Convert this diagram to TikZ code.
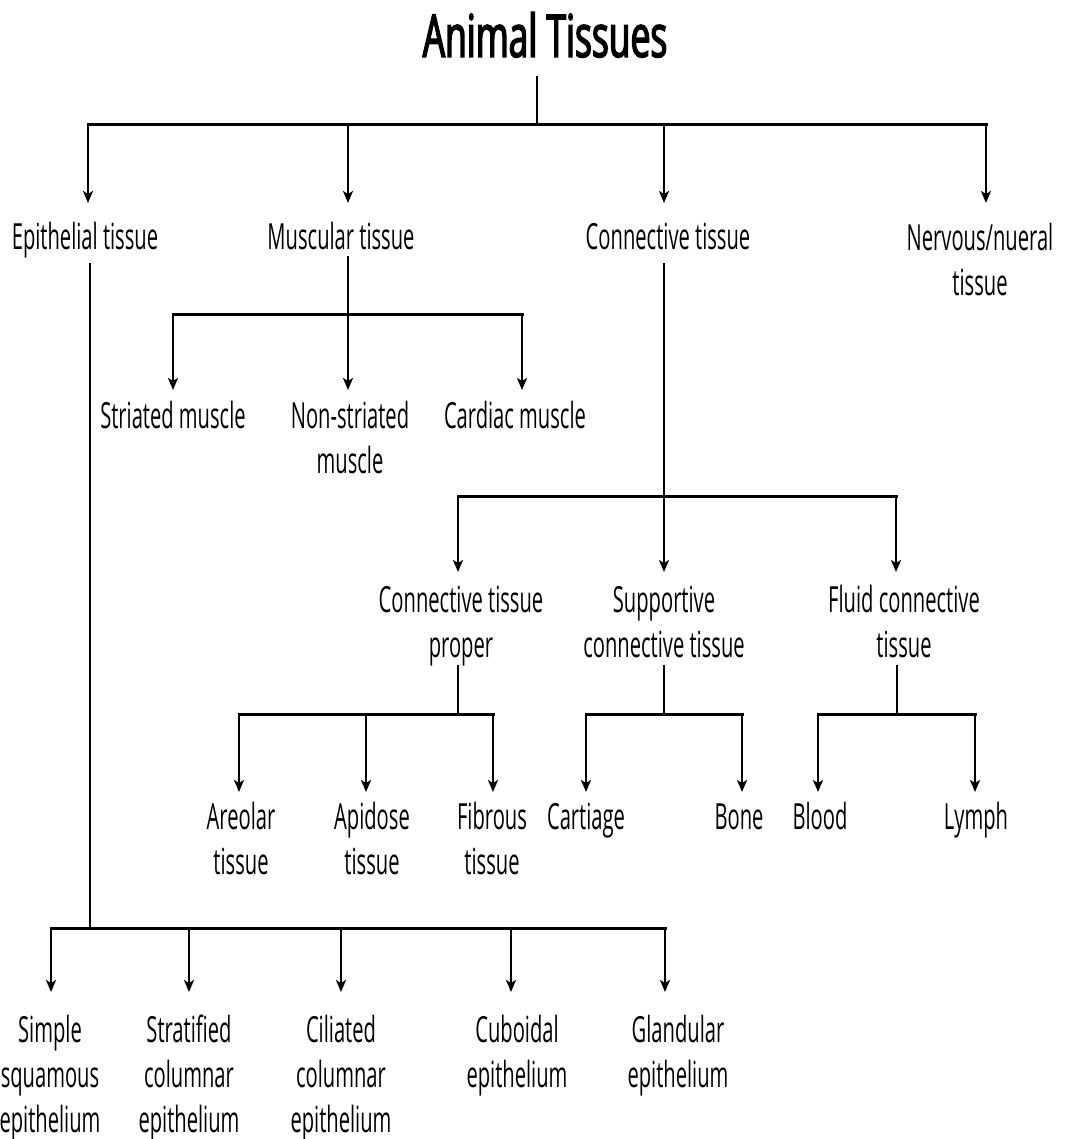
\documentclass[tikz,border=0pt]{standalone}
\usepackage{fontspec}
\setmainfont[FakeStretch=0.56]{Open Sans}
\newfontfamily\titlefont[FakeStretch=0.6,FakeBold=2.4]{Open Sans}
\usetikzlibrary{arrows.meta}
\begin{document}
\begin{tikzpicture}[x=1pt,y=-1pt,
  lbl/.style={anchor=north, inner sep=0pt, outer sep=0pt, align=center,
    font=\fontsize{36}{45}\selectfont, execute at begin node=\strut},
  link/.style={line width=2pt},
  bar/.style={line width=3pt, line cap=rect},
  arr/.style={line width=2pt, -{Stealth[length=12pt,width=10pt,inset=3pt]}},
  g1/.style={shorten >=15.5pt},
  g2/.style={shorten >=6.5pt},
  g3/.style={shorten >=8.5pt},
  g4/.style={shorten >=5.5pt},
  g5/.style={shorten >=18.5pt}]
\useasboundingbox (0,0) rectangle (1069,1139);

% title
\node[anchor=base, inner sep=0pt, font=\titlefont\fontsize{59}{66}\selectfont] (root) at (545,57) {Animal Tissues};

% first level
\node[lbl] (epi) at (85,218.5) {Epithelial tissue};
\node[lbl] (mus) at (341,218.5) {Muscular tissue};
\node[lbl] (con) at (668,218.5) {Connective tissue};
\node[lbl] (ner) at (980,218.5) {\strut Nervous/nueral\\tissue};

% muscular tissue
\node[lbl] (str) at (173,396.5) {Striated muscle};
\node[lbl] (nst) at (350,396.5) {\strut Non-striated\\muscle};
\node[lbl] (car) at (515,396.5) {Cardiac muscle};

% connective tissue
\node[lbl] (ctp) at (461,580.5) {\strut Connective tissue\\proper};
\node[lbl] (sup) at (664,580.5) {\strut Supportive\\connective tissue};
\node[lbl] (flu) at (904,580.5) {\strut Fluid connective\\tissue};

% third level
\node[lbl] (are) at (241,797.5) {\strut Areolar\\tissue};
\node[lbl] (api) at (372,797.5) {\strut Apidose\\tissue};
\node[lbl] (fib) at (492,797.5) {\strut Fibrous\\tissue};
\node[lbl] (cart) at (586,797.5) {Cartiage};
\node[lbl] (bone) at (739,797.5) {Bone};
\node[lbl] (blo) at (820,797.5) {Blood};
\node[lbl] (lym) at (976,797.5) {Lymph};

% epithelium types
\node[lbl] (sse) at (50,1010.5) {\strut Simple\\squamous\\epithelium};
\node[lbl] (sce) at (189,1010.5) {\strut Stratified\\columnar\\epithelium};
\node[lbl] (cce) at (341,1010.5) {\strut Ciliated\\columnar\\epithelium};
\node[lbl] (cub) at (517,1010.5) {\strut Cuboidal\\epithelium};
\node[lbl] (gla) at (678,1010.5) {\strut Glandular\\epithelium};

% bar levels
\coordinate (b0) at (538,125);
\coordinate (b1) at (348,314);
\coordinate (b2) at (664,496);
\coordinate (b3) at (458,714);
\coordinate (b4) at (51,928);

% root -> first level
\draw[link] ([xshift=-8pt,yshift=-18pt]root.south) -- ([xshift=-8pt]root.south |- b0);
\draw[bar] ([xshift=3pt]epi.north |- b0) -- ([xshift=6pt]ner.north |- b0);
\draw[arr,g1] ([xshift=3pt]epi.north |- b0) -- ([xshift=3pt]epi.north);
\draw[arr,g1] ([xshift=7pt]mus.north |- b0) -- ([xshift=7pt]mus.north);
\draw[arr,g1] ([xshift=-4pt]con.north |- b0) -- ([xshift=-4pt]con.north);
\draw[arr,g1] ([xshift=6pt]ner.north |- b0) -- ([xshift=6pt]ner.north);

% muscular tissue branches
\draw[link, shorten <=-7pt] ([xshift=7pt]mus.south) -- ([xshift=7pt]mus.south |- b1);
\draw[bar] (str.north |- b1) -- ([xshift=7pt]car.north |- b1);
\draw[arr,g2] (str.north |- b1) -- (str.north);
\draw[arr,g2] ([xshift=-2pt]nst.north |- b1) -- ([xshift=-2pt]nst.north);
\draw[arr,g2] ([xshift=7pt]car.north |- b1) -- ([xshift=7pt]car.north);

% connective tissue branches
\draw[link] ([xshift=-4pt]con.south) -- ([xshift=-4pt]con.south |- b2);
\draw[bar] ([xshift=-3pt]ctp.north |- b2) -- ([xshift=-8pt]flu.north |- b2);
\draw[arr,g3] ([xshift=-3pt]ctp.north |- b2) -- ([xshift=-3pt]ctp.north);
\draw[arr,g3] (sup.north |- b2) -- (sup.north);
\draw[arr,g3] ([xshift=-8pt]flu.north |- b2) -- ([xshift=-8pt]flu.north);

% connective tissue proper
\draw[link, shorten <=-6pt] ([xshift=-3pt]ctp.south) -- ([xshift=-3pt]ctp.south |- b3);
\draw[bar] ([xshift=-2pt]are.north |- b3) -- ([xshift=1pt]fib.north |- b3);
\draw[arr,g4] ([xshift=-2pt]are.north |- b3) -- ([xshift=-2pt]are.north);
\draw[arr,g4] ([xshift=-6pt]api.north |- b3) -- ([xshift=-6pt]api.north);
\draw[arr,g4] ([xshift=1pt]fib.north |- b3) -- ([xshift=1pt]fib.north);

% supportive connective tissue
\draw[link, shorten <=-6pt] (sup.south) -- (sup.south |- b3);
\draw[bar] (cart.north |- b3) -- ([xshift=3pt]bone.north |- b3);
\draw[arr,g4] (cart.north |- b3) -- (cart.north);
\draw[arr,g4] ([xshift=3pt]bone.north |- b3) -- ([xshift=3pt]bone.north);

% fluid connective tissue
\draw[link, shorten <=-6pt] ([xshift=-7pt]flu.south) -- ([xshift=-7pt]flu.south |- b3);
\draw[bar] ([xshift=-2pt]blo.north |- b3) -- ([xshift=-1pt]lym.north |- b3);
\draw[arr,g4] ([xshift=-2pt]blo.north |- b3) -- ([xshift=-2pt]blo.north);
\draw[arr,g4] ([xshift=-1pt]lym.north |- b3) -- ([xshift=-1pt]lym.north);

% epithelial tissue
\draw[link] ([xshift=5pt]epi.south) -- ([xshift=5pt]epi.south |- b4);
\draw[bar] ([xshift=1pt]sse.north |- b4) -- ([xshift=-13pt]gla.north |- b4);
\draw[arr,g5] ([xshift=1pt]sse.north |- b4) -- ([xshift=1pt]sse.north);
\draw[arr,g5] (sce.north |- b4) -- (sce.north);
\draw[arr,g5] (cce.north |- b4) -- (cce.north);
\draw[arr,g5] ([xshift=-6pt]cub.north |- b4) -- ([xshift=-6pt]cub.north);
\draw[arr,g5] ([xshift=-13pt]gla.north |- b4) -- ([xshift=-13pt]gla.north);
\end{tikzpicture}
\end{document}
